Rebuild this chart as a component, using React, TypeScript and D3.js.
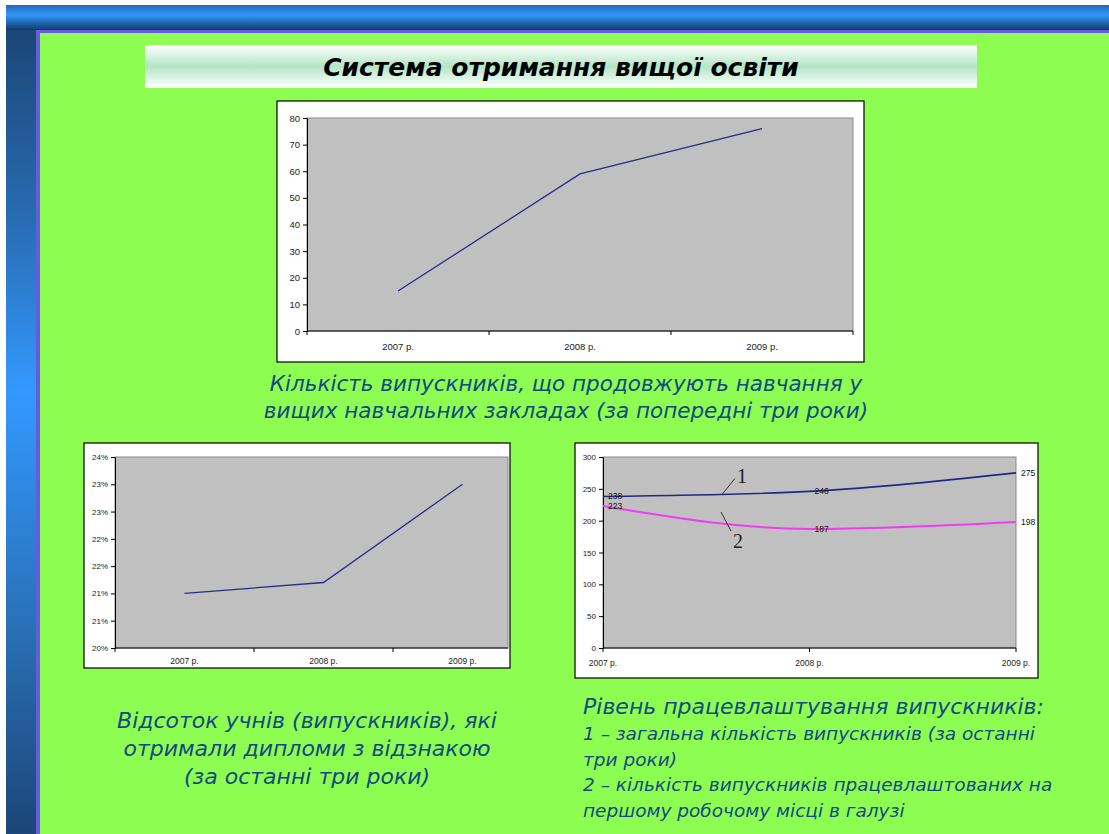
import React, { useEffect, useRef } from 'react';
import * as d3 from 'd3';

const years = ['2007 р.', '2008 р.', '2009 р.'];
const continuingStudy = [15, 59, 76];
const honoursShare = [0.21, 0.212, 0.23];
const honoursTicks = [0.2, 0.205, 0.21, 0.215, 0.22, 0.225, 0.23, 0.235];
const honoursTickLabels = ['20%', '21%', '21%', '22%', '22%', '23%', '23%', '24%'];
const graduatesTotal = [238, 246, 275];
const graduatesEmployed = [223, 187, 198];
const employmentTicks = [0, 50, 100, 150, 200, 250, 300];

const FONT = '"Liberation Sans", Arial, sans-serif';
const WIDE = '"DejaVu Sans", Verdana, sans-serif';
const TEXT_BLUE = '#124a82';

type Box = { x0: number; y0: number; x1: number; y1: number };

function frame(svg: any, box: Box, plot: Box) {
  svg.append('rect')
    .attr('x', box.x0).attr('y', box.y0)
    .attr('width', box.x1 - box.x0).attr('height', box.y1 - box.y0)
    .attr('fill', '#fff').attr('stroke', '#000').attr('stroke-width', 1.2);
  svg.append('rect')
    .attr('x', plot.x0).attr('y', plot.y0)
    .attr('width', plot.x1 - plot.x0).attr('height', plot.y1 - plot.y0)
    .attr('fill', '#c0c0c0').attr('stroke', '#8a8a8a').attr('stroke-width', 1);
}

function yAxis(svg: any, y: any, x: number, ticks: number[], fmt: (d: number, i: number) => string, size: number) {
  const g = svg.append('g').attr('transform', `translate(${x},0)`);
  g.call(d3.axisLeft(y).tickValues(ticks).tickSize(4).tickSizeOuter(0).tickPadding(3)
    .tickFormat((d: any, i: number) => fmt(d, i)));
  g.selectAll('path, line').attr('stroke', '#000');
  g.selectAll('text').attr('fill', '#222').style('font-size', `${size}px`).style('font-family', FONT);
}

function xBaseline(svg: any, x0: number, x1: number, y: number, marks: number[], size = 4) {
  svg.append('line').attr('x1', x0).attr('x2', x1).attr('y1', y).attr('y2', y).attr('stroke', '#000');
  svg.selectAll(null).data(marks).enter().append('line')
    .attr('x1', (d: number) => d).attr('x2', (d: number) => d)
    .attr('y1', y).attr('y2', y + size).attr('stroke', '#000');
}

function xLabels(svg: any, xs: number[], y: number, size: number) {
  svg.selectAll(null).data(years).enter().append('text')
    .attr('x', (_: any, i: number) => xs[i]).attr('y', y)
    .attr('text-anchor', 'middle').attr('fill', '#222')
    .style('font-size', `${size}px`).style('font-family', FONT)
    .text((d: string) => d);
}

function drawContinuing(svg: any) {
  const box = { x0: 277, y0: 101, x1: 864, y1: 362 };
  const plot = { x0: 307, y0: 118, x1: 853, y1: 331 };
  frame(svg, box, plot);
  const x = d3.scaleBand().domain(years).range([plot.x0, plot.x1]);
  const y = d3.scaleLinear().domain([0, 80]).range([plot.y1, plot.y0]);
  yAxis(svg, y, plot.x0, d3.range(0, 81, 10), (d) => `${d}`, 9.5);
  const bounds = years.map((d) => x(d) as number).concat([plot.x1]);
  xBaseline(svg, plot.x0, plot.x1, plot.y1, bounds);
  xLabels(svg, years.map((d) => (x(d) as number) + x.bandwidth() / 2), 350, 9.5);
  const line = d3.line<number>()
    .x((_, i) => (x(years[i]) as number) + x.bandwidth() / 2)
    .y((d) => y(d));
  svg.append('path').datum(continuingStudy)
    .attr('d', line).attr('fill', 'none').attr('stroke', '#2b2b86').attr('stroke-width', 1.3);
}

function drawHonours(svg: any) {
  const box = { x0: 84, y0: 443, x1: 510, y1: 668 };
  const plot = { x0: 115, y0: 457, x1: 508, y1: 648 };
  frame(svg, box, plot);
  // the category axis runs past the right edge of the frame, as in the source
  const x = d3.scaleBand().domain(years).range([plot.x0, 532]);
  const y = d3.scaleLinear().domain([0.2, 0.235]).range([plot.y1, plot.y0]);
  yAxis(svg, y, plot.x0, honoursTicks, (_, i) => honoursTickLabels[i], 8);
  const bounds = years.map((d) => x(d) as number).filter((v) => v < plot.x1);
  xBaseline(svg, plot.x0, plot.x1, plot.y1, bounds);
  xLabels(svg, years.map((d) => (x(d) as number) + x.bandwidth() / 2), 664, 8.5);
  const line = d3.line<number>()
    .x((_, i) => (x(years[i]) as number) + x.bandwidth() / 2)
    .y((d) => y(d));
  svg.append('path').datum(honoursShare)
    .attr('d', line).attr('fill', 'none').attr('stroke', '#2b2b86').attr('stroke-width', 1.3);
}

function drawEmployment(svg: any) {
  const box = { x0: 575, y0: 443, x1: 1038, y1: 678 };
  const plot = { x0: 603, y0: 457, x1: 1016, y1: 648 };
  frame(svg, box, plot);
  const x = d3.scalePoint().domain(years).range([plot.x0, plot.x1]);
  const y = d3.scaleLinear().domain([0, 300]).range([plot.y1, plot.y0]);
  yAxis(svg, y, plot.x0, employmentTicks, (d) => `${d}`, 8);
  const pts = years.map((d) => x(d) as number);
  xBaseline(svg, plot.x0, plot.x1, plot.y1, pts);
  xLabels(svg, pts, 666, 8.5);

  const series = [
    { values: graduatesTotal, color: '#252585', width: 1.6 },
    { values: graduatesEmployed, color: '#f03cf0', width: 2 },
  ];
  const line = d3.line<number>()
    .x((_, i) => pts[i])
    .y((d) => y(d))
    .curve(d3.curveMonotoneX);
  series.forEach((s) => {
    svg.append('path').datum(s.values)
      .attr('d', line).attr('fill', 'none').attr('stroke', s.color).attr('stroke-width', s.width);
    svg.selectAll(null).data(s.values).enter().append('text')
      .attr('x', (_: any, i: number) => pts[i] + 5)
      .attr('y', (d: number) => y(d) + 3)
      .attr('fill', '#111')
      .style('font-size', '8.5px').style('font-family', FONT)
      .text((d: number) => d);
  });

  // series markers "1" and "2"
  const serif = '"Liberation Serif", "Times New Roman", serif';
  const ax = x(years[0]) as number;
  const p1 = y(graduatesTotal[0]);
  const p2 = y(graduatesEmployed[0]);
  svg.append('line').attr('x1', ax + 119).attr('y1', p1 - 2).attr('x2', ax + 132).attr('y2', p1 - 18)
    .attr('stroke', '#333').attr('stroke-width', 1);
  svg.append('text').attr('x', ax + 134).attr('y', p1 - 13).style('font-family', serif)
    .style('font-size', '20px').attr('fill', '#222').text('1');
  svg.append('line').attr('x1', ax + 118).attr('y1', p2 + 6).attr('x2', ax + 128).attr('y2', p2 + 25)
    .attr('stroke', '#333').attr('stroke-width', 1);
  svg.append('text').attr('x', ax + 130).attr('y', p2 + 42).style('font-family', serif)
    .style('font-size', '20px').attr('fill', '#222').text('2');
}

function caption(svg: any, lines: string[], x: number, y0: number, step: number, size: number, anchor: string) {
  svg.selectAll(null).data(lines).enter().append('text')
    .attr('x', x).attr('y', (_: any, i: number) => y0 + i * step)
    .attr('text-anchor', anchor).attr('fill', TEXT_BLUE)
    .style('font-family', WIDE).style('font-style', 'italic').style('font-size', `${size}px`)
    .text((d: string) => d);
}

export default function App() {
  const svgRef = useRef<SVGSVGElement>(null);

  useEffect(() => {
    if (!svgRef.current) return;
    const svg = d3.select(svgRef.current);
    svg.selectAll('*').remove();

    const defs = svg.append('defs');
    const topGrad = defs.append('linearGradient').attr('id', 'topBand').attr('x1', 0).attr('x2', 0).attr('y1', 0).attr('y2', 1);
    topGrad.append('stop').attr('offset', '0%').attr('stop-color', '#2468b4');
    topGrad.append('stop').attr('offset', '40%').attr('stop-color', '#3398fa');
    topGrad.append('stop').attr('offset', '100%').attr('stop-color', '#0f3a6a');
    const leftGrad = defs.append('linearGradient').attr('id', 'leftBand').attr('x1', 0).attr('x2', 0).attr('y1', 0).attr('y2', 1);
    leftGrad.append('stop').attr('offset', '0%').attr('stop-color', '#1b4676');
    leftGrad.append('stop').attr('offset', '25%').attr('stop-color', '#2a6fb8');
    leftGrad.append('stop').attr('offset', '45%').attr('stop-color', '#3399ff');
    leftGrad.append('stop').attr('offset', '75%').attr('stop-color', '#2a6fb5');
    leftGrad.append('stop').attr('offset', '100%').attr('stop-color', '#1b4677');
    const titleGrad = defs.append('linearGradient').attr('id', 'titleBox').attr('x1', 0).attr('x2', 0).attr('y1', 0).attr('y2', 1);
    titleGrad.append('stop').attr('offset', '0%').attr('stop-color', '#ffffff');
    titleGrad.append('stop').attr('offset', '50%').attr('stop-color', '#b3e5c6');
    titleGrad.append('stop').attr('offset', '100%').attr('stop-color', '#ffffff');

    // slide background
    svg.append('rect').attr('width', 1109).attr('height', 834).attr('fill', '#fff');
    svg.append('rect').attr('x', 6).attr('y', 5).attr('width', 1103).attr('height', 25).attr('fill', 'url(#topBand)');
    svg.append('rect').attr('x', 6).attr('y', 30).attr('width', 30).attr('height', 804).attr('fill', 'url(#leftBand)');
    svg.append('rect').attr('x', 36).attr('y', 30).attr('width', 1073).attr('height', 804).attr('fill', '#6a5ae0');
    svg.append('rect').attr('x', 40).attr('y', 33).attr('width', 1069).attr('height', 801).attr('fill', '#8dfd51');

    // title
    svg.append('rect').attr('x', 145).attr('y', 45).attr('width', 832).attr('height', 43).attr('fill', 'url(#titleBox)');
    svg.append('text').attr('x', 561).attr('y', 76).attr('text-anchor', 'middle')
      .style('font-family', WIDE).style('font-style', 'italic').style('font-weight', 'bold')
      .style('font-size', '25px').attr('fill', '#000').text('Система отримання вищої освіти');

    drawContinuing(svg);
    drawHonours(svg);
    drawEmployment(svg);

    caption(svg, [
      'Кількість випускників, що продовжують навчання у',
      'вищих навчальних закладах (за попередні три роки)',
    ], 566, 391, 27, 21.5, 'middle');
    caption(svg, [
      'Відсоток учнів (випускників), які',
      'отримали дипломи з відзнакою',
      '(за останні три роки)',
    ], 307, 728, 28, 22, 'middle');
    caption(svg, ['Рівень працевлаштування випускників:'], 583, 714, 0, 22, 'start');
    caption(svg, [
      '1 – загальна кількість випускників (за останні',
      'три роки)',
      '2 – кількість випускників працевлаштованих на',
      'першому робочому місці в галузі',
    ], 583, 740, 25.5, 18.5, 'start');
  }, []);

  return (
    <div style={{ position: 'absolute', left: 0, top: 0 }}>
      <svg ref={svgRef} width={1109} height={834} style={{ display: 'block' }} />
    </div>
  );
}
